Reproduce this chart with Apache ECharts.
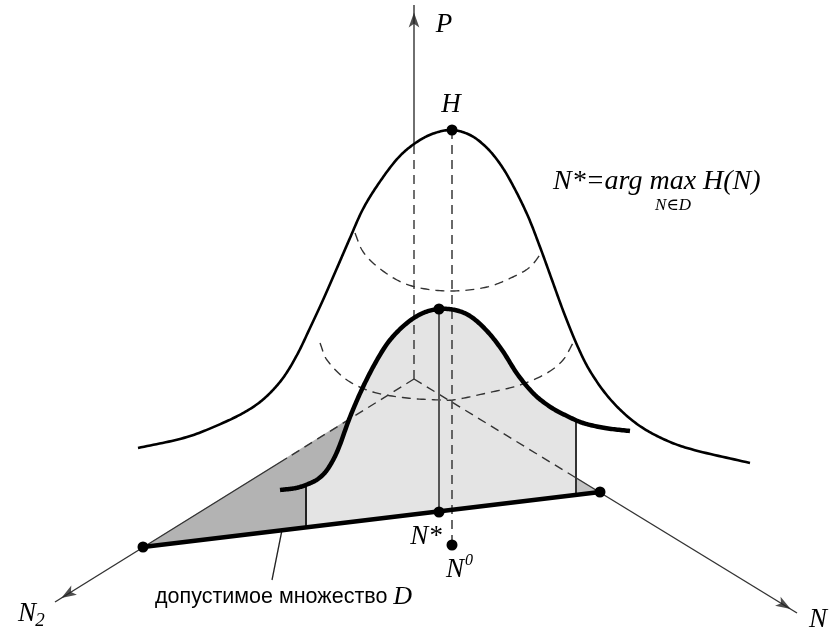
<!DOCTYPE html>
<html><head><meta charset="utf-8">
<script src="https://cdn.jsdelivr.net/npm/echarts@6/dist/echarts.min.js"></script>
<style>html,body{margin:0;padding:0;background:#fff}#c{width:830px;height:639px}</style>
</head><body><div id="c"></div>
<script>
// ---- Diagram data (x: horizontal units, y: vertical units measured downward) ----
const xExtent = [0, 830];
const yExtent = [0, 639];

const outerBell = [[138,448],[187,437],[225,422],[250,409],[267,396],[283,378],[297,355],[310,328],[323,300],[337,268],[350,238],[363,209],[379,183],[398,158],[414,144],[432,134],[452,130],[470,135],[485,146],[498,161],[510,180],[527,214],[540,247],[552,280],[564,313],[577,345],[590,371],[610,399],[633,421],[657,436],[687,448],[750,463]];
const innerCurve = [[280,490],[296,488],[307,484.5],[318,479],[327,470],[337,452],[350,417],[363,387],[377,360],[390,340],[407,323],[423,313],[439,309],[455,310],[470,316],[487,331],[502,350],[518,375],[535,395],[552,408],[567,416],[583,423],[605,428],[630,431]];
const upperArc = [[355,233],[362,250],[373,263],[397,280],[420,288],[452,291],[487,287],[513,277],[530,267],[542,252]];
const lowerArc = [[320,343],[327,360],[347,380],[373,392],[407,398],[440,400],[453,400],[487,393],[520,385],[547,373],[563,360],[573,343]];

const pAxisDashed = [[414,379],[414,143]];
const pAxisSolid = [[414,143],[414,5]];
const n2AxisDashed = [[414,379],[287,458]];
const n2AxisSolid = [[287,458],[55,602]];
const nAxisDashed = [[414,379],[573,476]];
const nAxisSolid = [[573,476],[797,613]];
const baseLine = [[143,547],[600,492]];
const hVertical = [[452,130],[452,545]];
const optVertical = [[439,309],[439,512]];
const leftVertical = [[306,486],[306,527]];
const rightVertical = [[576,420],[576,495]];
const leader = [[282,530],[272,580]];

const dots = [[143,547],[600,492],[439,512],[452,545],[452,130],[439,309]];

const darkRegion = [[143,547],[350,418],[344,435],[337,452],[327,470],[318,479],[306,486],[306,527]];
const lightRegion = [[306,527],[306,486]].concat(innerCurve.filter(p => p[0] > 306 && p[0] < 576), [[576,420],[576,495]]);
const cornerRegion = [[576,477],[600,492],[576,495]];

// arrows: [tail, tip]
const arrows = [[pAxisSolid[0], pAxisSolid[1]], [n2AxisSolid[0], n2AxisSolid[1]], [nAxisSolid[0], nAxisSolid[1]]];

// text labels: [x, y, text, kind]
const labels = [
  [444, 25, 'P', 'math'],
  [451, 105, 'H', 'math'],
  [426, 537, 'N*', 'math'],
  [455, 570, 'N', 'math'],
  [469, 561, '0', 'sup'],
  [27, 614, 'N', 'math'],
  [40, 621, '2', 'sub2'],
  [818, 620, 'N', 'math'],
  [553, 182, 'N*=arg max H(N)', 'formula'],
  [673, 206, 'N\u2208D', 'sub'],
  [155, 597, '{a|допустимое множество }{d|D}', 'caption']
];

// ---- Rendering ----
const serif = '"Liberation Serif", "DejaVu Serif", serif';
const sans = '"Liberation Sans", Arial, sans-serif';
const kinds = {
  math: {font: 'italic 27px ' + serif, align: 'center'},
  sup: {font: 'italic 16px ' + serif, align: 'center'},
  sub2: {font: 'italic 19px ' + serif, align: 'center'},
  formula: {font: 'italic 28px ' + serif, align: 'left'},
  sub: {font: 'italic 17px ' + serif, align: 'center'},
  caption: {font: '21.5px ' + sans, align: 'left',
    rich: {a: {font: '21.5px ' + sans, fill: '#000'}, d: {font: 'italic 26px ' + serif, fill: '#000'}}}
};

function polySeries(pts, color) {
  return {type: 'custom', silent: true, z: 1, data: [[0, 0]], renderItem: (p, api) => ({
    type: 'polygon', shape: {points: pts.map(q => api.coord(q))}, style: {fill: color}
  })};
}
function lineSeries(pts, width, color, dash, z) {
  return {type: 'line', data: pts, symbol: 'none', showSymbol: false, silent: true, z: z || 3,
    lineStyle: {width: width, color: color, type: dash ? [9, 6] : 'solid', cap: 'butt'}};
}
// smooth curve through the read points (chord-scaled cubic Hermite), drawn in screen space
function smoothPath(P) {
  const out = [P[0]];
  const d = (a, b) => Math.hypot(b[0] - a[0], b[1] - a[1]) || 1;
  for (let i = 0; i < P.length - 1; i++) {
    const p0 = P[i - 1] || P[i], p1 = P[i], p2 = P[i + 1], p3 = P[i + 2] || P[i + 1];
    const d01 = i > 0 ? d(p0, p1) : 0, d12 = d(p1, p2), d23 = i + 2 < P.length ? d(p2, p3) : 0;
    const m1 = [(p2[0] - p0[0]) / (d01 + d12) * d12, (p2[1] - p0[1]) / (d01 + d12) * d12];
    const m2 = [(p3[0] - p1[0]) / (d12 + d23) * d12, (p3[1] - p1[1]) / (d12 + d23) * d12];
    const c1 = [p1[0] + m1[0] / 3, p1[1] + m1[1] / 3], c2 = [p2[0] - m2[0] / 3, p2[1] - m2[1] / 3];
    for (let s = 1; s <= 16; s++) {
      const t = s / 16, u = 1 - t;
      out.push([
        u*u*u*p1[0] + 3*u*u*t*c1[0] + 3*u*t*t*c2[0] + t*t*t*p2[0],
        u*u*u*p1[1] + 3*u*u*t*c1[1] + 3*u*t*t*c2[1] + t*t*t*p2[1]
      ]);
    }
  }
  return out;
}
function curveSeries(pts, width, color, dash, z) {
  return {type: 'custom', silent: true, z: z || 3, data: [[0, 0]], renderItem: (p, api) => ({
    type: 'polyline', shape: {points: smoothPath(pts.map(q => api.coord(q)))},
    style: {stroke: color, lineWidth: width, fill: null, lineDash: dash ? [9, 6] : null, lineCap: 'butt', lineJoin: 'round'}
  })};
}
const arrowLen = 15;
const arrowData = arrows.map(a => {
  const dx = a[1][0] - a[0][0], dy = a[1][1] - a[0][1];
  const len = Math.hypot(dx, dy);
  const cx = a[1][0] - dx / len * arrowLen / 2, cy = a[1][1] - dy / len * arrowLen / 2;
  const rot = Math.atan2(-dy, dx) * 180 / Math.PI - 90;
  return {value: [cx, cy], symbolRotate: rot};
});

const chart = echarts.init(document.getElementById('c'), null, {renderer: 'canvas'});
chart.setOption({
  animation: false,
  backgroundColor: '#fff',
  grid: {left: 0, right: 0, top: 0, bottom: 0},
  xAxis: {type: 'value', min: xExtent[0], max: xExtent[1], show: false},
  yAxis: {type: 'value', min: yExtent[0], max: yExtent[1], inverse: true, show: false},
  series: [
    polySeries(darkRegion, '#b3b3b3'),
    polySeries(lightRegion, '#e4e4e4'),
    polySeries(cornerRegion, '#c4c4c4'),
    lineSeries(pAxisDashed, 1.4, '#333', true),
    lineSeries(pAxisSolid, 1.4, '#333', false),
    lineSeries(n2AxisDashed, 1.4, '#333', true),
    lineSeries(n2AxisSolid, 1.4, '#333', false),
    lineSeries(nAxisDashed, 1.4, '#333', true),
    lineSeries(nAxisSolid, 1.4, '#333', false),
    lineSeries(hVertical, 1.6, '#444', true),
    lineSeries(optVertical, 2, '#555', false),
    lineSeries(leftVertical, 2, '#222', false),
    lineSeries(rightVertical, 2, '#333', false),
    lineSeries(leader, 1.3, '#222', false),
    curveSeries(upperArc, 1.4, '#333', true),
    curveSeries(lowerArc, 1.4, '#333', true),
    curveSeries(outerBell, 2.6, '#000', false, 4),
    curveSeries(innerCurve, 4.5, '#000', false, 5),
    lineSeries(baseLine, 4.5, '#000', false, 5),
    {type: 'scatter', data: arrowData, symbol: 'arrow', symbolSize: [8, arrowLen], silent: true, z: 6,
      itemStyle: {color: '#222'}},
    {type: 'scatter', data: dots, symbol: 'circle', symbolSize: 11, silent: true, z: 7,
      itemStyle: {color: '#000', opacity: 1}},
    {type: 'custom', silent: true, z: 8, data: labels.map((l, i) => [l[0], l[1], i]),
      renderItem: (p, api) => {
        const l = labels[p.dataIndex];
        const k = kinds[l[3]];
        const pt = api.coord([l[0], l[1]]);
        return {type: 'text', x: pt[0], y: pt[1], style: {
          text: l[2], font: k.font, fill: '#000', align: k.align, verticalAlign: 'middle', rich: k.rich
        }};
      }}
  ]
});
</script></body></html>
